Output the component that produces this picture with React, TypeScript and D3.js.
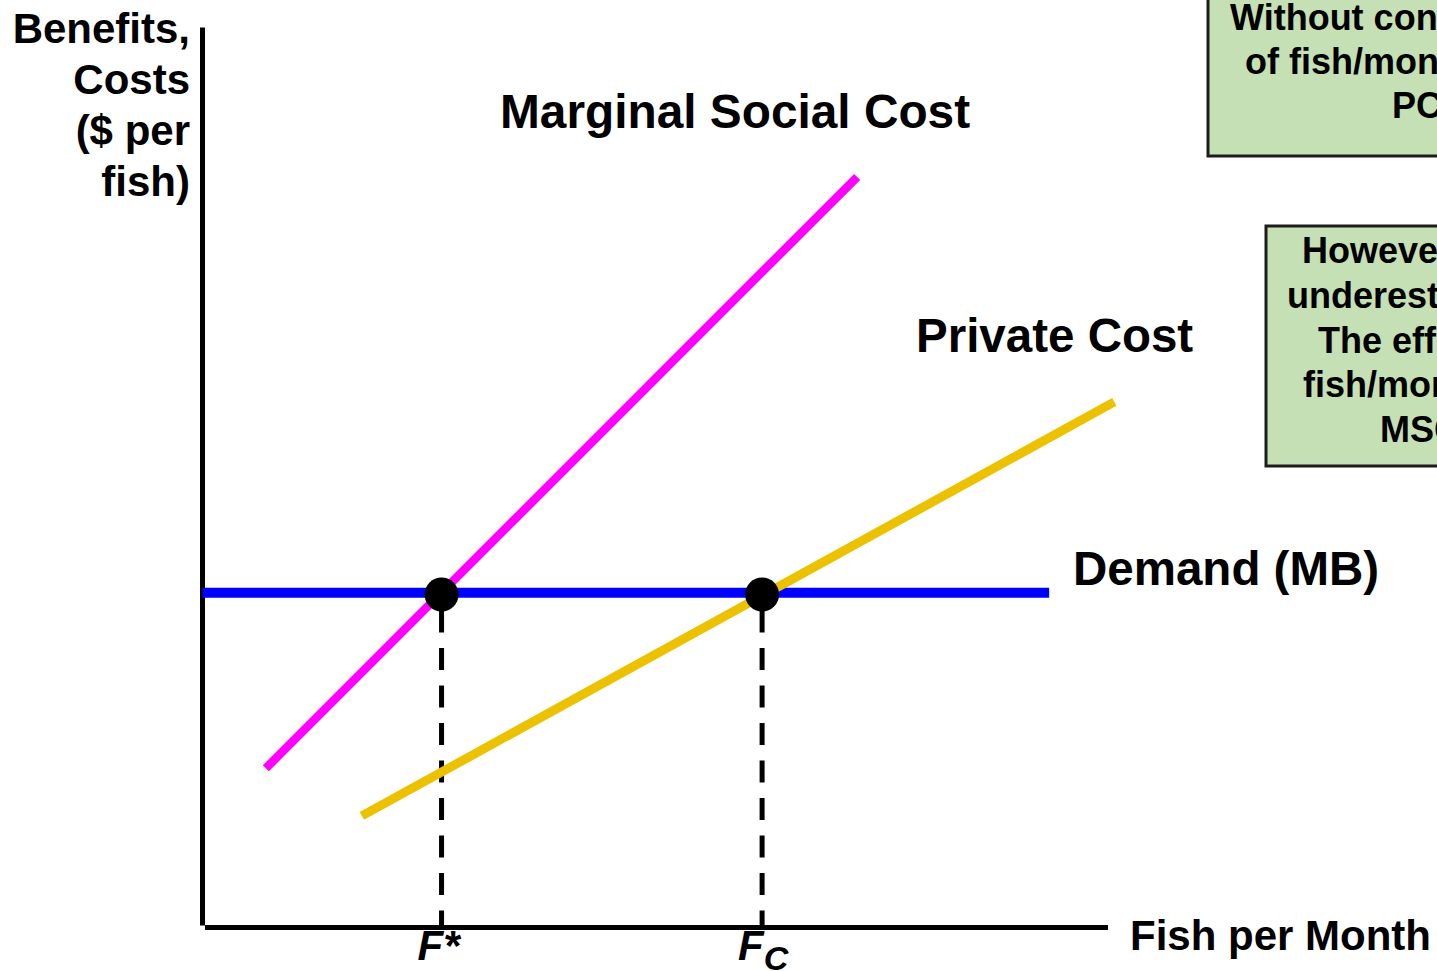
import React from "react";
import * as d3 from "d3";

// Quantities (fish per month, arbitrary units) and prices ($ per fish, arbitrary units)
const mscPoints = [
  { q: 7.0, p: 17.7 },
  { q: 72.3, p: 83.4 },
];
const pcPoints = [
  { q: 17.6, p: 12.4 },
  { q: 100.7, p: 58.4 },
];
const demandPoints = [
  { q: 0, p: 37.2 },
  { q: 93.5, p: 37.2 },
];
const equilibriumLabels = ["F*", "Fc"];
const equilibriumQ = [26.4, 61.8];
const equilibriumP = [37.0, 37.0];

const yAxisLabel = ["Benefits,", "Costs", "($ per", "fish)"];
const xAxisLabel = "Fish per Month";
const curveLabels = ["Marginal Social Cost", "Private Cost", "Demand (MB)"];
const box1Lines = ["Without controls, the number", "of fish/month is where MB =", "PC"];
const box2Lines = [
  "However, PC",
  "underestimates costs.",
  "The efficient # of",
  "fish/month is where",
  "MSC = MB",
];

const W = 1437;
const H = 971;
const FONT = "'Liberation Sans', Arial, Helvetica, sans-serif";

export default function App() {
  const x = d3.scaleLinear().domain([0, 100]).range([202.5, 1108]);
  const y = d3.scaleLinear().domain([0, 100]).range([927.5, 27.5]);
  const line = d3
    .line<{ q: number; p: number }>()
    .x((d) => x(d.q))
    .y((d) => y(d.p));

  const box1X = [1230, 1245, 1392];
  const box2X = [1302, 1287, 1318, 1303, 1380];

  return (
    <svg
      width={W}
      height={H}
      style={{ position: "absolute", left: 0, top: 0, background: "#fff" }}
      fontFamily={FONT}
      fontWeight="bold"
    >
      {/* Text boxes */}
      <rect x={1208} y={-6} width={300} height={162} fill="#C5E0B4" stroke="#1c1c1c" strokeWidth={3} />
      {box1Lines.map((t, i) => (
        <text key={t} x={box1X[i]} y={30 + i * 44} fontSize={36} fill="#000">
          {t}
        </text>
      ))}
      <rect x={1266} y={226} width={250} height={240} fill="#C5E0B4" stroke="#1c1c1c" strokeWidth={3} />
      {box2Lines.map((t, i) => (
        <text key={t} x={box2X[i]} y={263 + i * 44.75} fontSize={36} fill="#000">
          {t}
        </text>
      ))}

      {/* Axes */}
      <line x1={x(0)} x2={x(0)} y1={y(100)} y2={y(0) - 2} stroke="#000" strokeWidth={5} />
      <line x1={x(0) + 2.5} x2={x(100)} y1={y(0)} y2={y(0)} stroke="#000" strokeWidth={5} />

      {/* Dashed drop lines */}
      {equilibriumQ.map((q, i) => (
        <line
          key={"d" + i}
          x1={x(q)}
          x2={x(q)}
          y1={y(equilibriumP[i]) + 16}
          y2={y(0)}
          stroke="#000"
          strokeWidth={5}
          strokeDasharray="22 15.5"
        />
      ))}

      {/* Curves */}
      <path d={line(demandPoints) || ""} stroke="#0000FF" strokeWidth={10} fill="none" />
      <path d={line(mscPoints) || ""} stroke="#FF00FF" strokeWidth={8.5} fill="none" />
      <path d={line(pcPoints) || ""} stroke="#EBC100" strokeWidth={9} fill="none" />

      {/* Equilibrium dots */}
      {equilibriumQ.map((q, i) => (
        <circle key={"c" + i} cx={x(q)} cy={y(equilibriumP[i])} r={17} fill="#000" />
      ))}

      {/* Curve labels */}
      <text x={500} y={128} fontSize={47.8}>{curveLabels[0]}</text>
      <text x={916} y={352} fontSize={47.5}>{curveLabels[1]}</text>
      <text x={1073} y={585} fontSize={47.5}>{curveLabels[2]}</text>

      {/* Axis labels */}
      {yAxisLabel.map((t, i) => (
        <text key={t} x={190} y={43 + i * 51} fontSize={42} textAnchor="end">
          {t}
        </text>
      ))}
      <text x={1130} y={950} fontSize={42}>{xAxisLabel}</text>

      {/* Quantity labels */}
      <text x={x(equilibriumQ[0]) - 24} y={960} fontSize={42} fontStyle="italic">
        F*
      </text>
      <text x={x(equilibriumQ[1]) - 24} y={960} fontSize={42} fontStyle="italic">
        F
        <tspan fontSize={34} dy={10}>C</tspan>
      </text>
    </svg>
  );
}
